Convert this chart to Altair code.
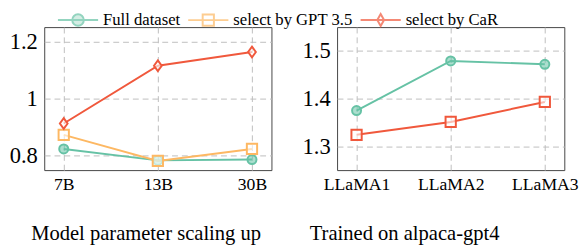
import altair as alt
import pandas as pd

# ---- data ----
series_names = ["Full dataset", "select by GPT 3.5", "select by CaR"]

left_x = ["7B", "13B", "30B"]
left_full = [0.824, 0.784, 0.787]
left_gpt = [0.873, 0.782, 0.824]
left_car = [0.913, 1.115, 1.163]

right_x = ["LLaMA1", "LLaMA2", "LLaMA3"]
right_full = [1.375, 1.479, 1.472]
right_car = [1.324, 1.351, 1.393]

left_title = "Model parameter scaling up"
right_title = "Trained on alpaca-gpt4"

# ---- styles ----
TEAL = "#66c2a5"
ORANGE = "#fdb863"
RED = "#f0583c"
FONT = "Liberation Serif, Times New Roman, Times, serif"

stroke_scale = alt.Scale(domain=series_names, range=[TEAL, ORANGE, RED])
fill_scale = alt.Scale(domain=series_names, range=["#a8dcc9", "transparent", "transparent"])
# legend glyphs: a line with the marker on it (units: sqrt(symbolSize)/2 px)
legend_shapes = alt.Scale(
    domain=series_names,
    range=[
        "M-2.5,0L2.5,0M0.72,0C0.72,0.3977 0.3977,0.72 0,0.72C-0.3977,0.72 -0.72,0.3977 -0.72,0"
        "C-0.72,-0.3977 -0.3977,-0.72 0,-0.72C0.3977,-0.72 0.72,-0.3977 0.72,0Z",
        "M-2.5,0L2.5,0M-0.7,-0.7L0.7,-0.7L0.7,0.7L-0.7,0.7Z",
        "M-2.5,0L2.5,0M0,-0.75L0.42,0L0,0.75L-0.42,0Z",
    ],
)

DIAMOND = "M0,-1L0.72,0L0,1L-0.72,0Z"


def long_df(xs, cols):
    rows = []
    for name, vals in cols:
        for x, v in zip(xs, vals):
            rows.append({"x": x, "value": v, "series": name})
    return pd.DataFrame(rows)


def panel(df, cats, domain, ticks, fmt, title, dx, markers, with_legend):
    base = alt.Chart(df).encode(
        x=alt.X(
            "x:N",
            sort=cats,
            scale=alt.Scale(type="point", padding=0.207),
            axis=alt.Axis(
                title=None, labelAngle=0, labelFont=FONT, labelFontSize=18,
                labelColor="black", ticks=False, domain=False, labelPadding=6,
                grid=True, gridDash=[6, 4], gridColor="#bdbdbd",
            ),
        ),
        y=alt.Y(
            "value:Q",
            scale=alt.Scale(domain=domain, nice=False, zero=False),
            axis=alt.Axis(
                title=None, values=ticks, format=fmt, labelFont=FONT, labelFontSize=23,
                labelColor="black", ticks=False, domain=False, labelPadding=7,
                grid=True, gridDash=[6, 4], gridColor="#bdbdbd",
            ),
        ),
    )
    layers = []
    if with_legend:
        layers.append(
            base.mark_point(size=0, strokeWidth=2).encode(
                stroke=alt.Stroke(
                    "series:N", scale=stroke_scale,
                    legend=alt.Legend(
                        title=None, orient="none", direction="horizontal",
                        legendX=25, legendY=-17,
                        labelFont=FONT, labelFontSize=17, labelColor="black",
                        symbolSize=269, symbolStrokeWidth=2, labelOffset=16,
                        columnPadding=3, values=series_names, symbolOpacity=1,
                    ),
                ),
                fill=alt.Fill("series:N", scale=fill_scale),
                shape=alt.Shape("series:N", scale=legend_shapes),
            )
        )
    layers.append(
        base.mark_line(strokeWidth=2).encode(
            stroke=alt.Stroke("series:N", scale=stroke_scale),
            detail="series:N",
        )
    )
    for name, shape, color, filled, size in markers:
        if filled:
            m = base.mark_point(shape=shape, size=size, strokeWidth=2, filled=False,
                                fill=color, fillOpacity=0.55, stroke=color)
        else:
            m = base.mark_point(shape=shape, size=size, strokeWidth=2, filled=False,
                                stroke=color, fill="white", fillOpacity=0.6)
        layers.append(m.transform_filter(alt.datum.series == name))
    return alt.layer(*layers).properties(
        width=232, height=146,
        title=alt.TitleParams(
            title, orient="bottom", font=FONT, fontSize=21, fontWeight="normal",
            color="black", offset=30, anchor="middle", dx=dx,
        ),
    )


left_df = long_df(left_x, [(series_names[0], left_full), (series_names[1], left_gpt), (series_names[2], left_car)])
right_df = long_df(right_x, [(series_names[0], right_full), (series_names[2], right_car)])

left = panel(
    left_df, left_x, [0.75, 1.25], [0.8, 1.0, 1.2], ".1~f", left_title, -12,
    [(series_names[0], "circle", TEAL, True, 85),
     (series_names[1], "square", ORANGE, False, 110),
     (series_names[2], DIAMOND, RED, False, 120)],
    True,
)
right = panel(
    right_df, right_x, [1.25, 1.55], [1.3, 1.4, 1.5], ".1f", right_title, -47,
    [(series_names[0], "circle", TEAL, True, 85),
     (series_names[2], "square", RED, False, 110)],
    False,
)

chart = (
    alt.hconcat(left, right, spacing=29)
    .configure(font=FONT)
    .configure_legend(labelFont=FONT, labelFontSize=17)
    .configure_view(stroke="#444444", strokeWidth=1)
    .properties(padding=0)
)

chart.save("out.html", embed_options={"renderer": "svg", "actions": False})
